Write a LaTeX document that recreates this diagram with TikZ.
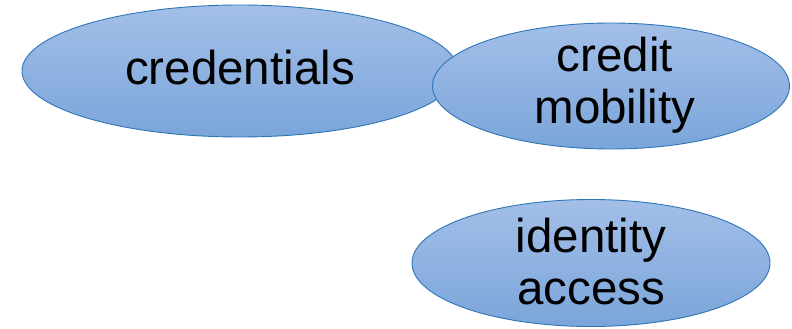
\documentclass[tikz,border=0pt]{standalone}
\usepackage{fontspec}
\setmainfont{Liberation Sans}
\usetikzlibrary{shapes.geometric}
\definecolor{topc}{HTML}{A3BFE8}
\definecolor{botc}{HTML}{7AA5DA}
\definecolor{edgec}{HTML}{2E75B6}
\tikzset{
  blob/.style={ellipse, draw=edgec, line width=0.9pt, top color=topc, bottom color=botc, inner sep=0pt},
  lbl/.style={align=center, font=\fontsize{47.5}{52}\selectfont, text=black, inner sep=0pt}
}
\begin{document}
\begin{tikzpicture}[x=1pt,y=-1pt]
\useasboundingbox (0,0) rectangle (792,329);
\node[blob, minimum width=436pt, minimum height=132pt] (cred) at (240,71) {};
\node[blob, minimum width=357pt, minimum height=126pt] (mob) at (611,86) {};
\node[blob, minimum width=358pt, minimum height=127pt] (ida) at (591,263) {};
\node[lbl] (credt) at ([yshift=3pt]cred.center) {credentials};
\node[lbl] (mobt) at ([xshift=4pt,yshift=1pt]mob.center) {credit\\mobility};
\node[lbl] (idat) at ([yshift=1pt]ida.center) {identity\\access};
\end{tikzpicture}
\end{document}
